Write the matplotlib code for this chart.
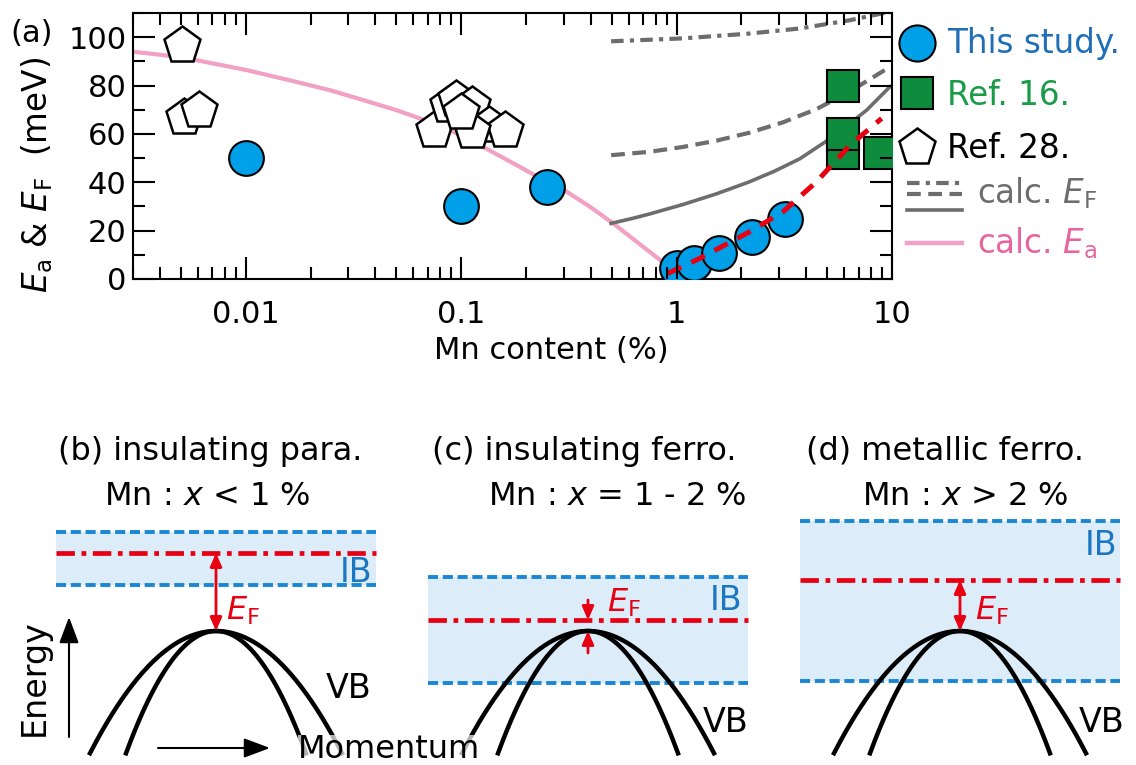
import numpy as np
import matplotlib
matplotlib.use('Agg')
import matplotlib.pyplot as plt
from matplotlib.lines import Line2D
from matplotlib.ticker import MultipleLocator, LogLocator, NullFormatter, FuncFormatter

plt.rcParams['font.family'] = ['DejaVu Sans']
plt.rcParams['mathtext.fontset'] = 'dejavusans'

W, H = 1136, 765

# ---- panel (a) data ----
this_x = [0.01, 0.1, 0.25, 1.0, 1.2, 1.58, 2.25, 3.2]
this_y = [50, 30, 38, 4.4, 6.5, 10.6, 17.5, 25]
ref16_x = [5.9, 8.8, 5.9, 5.9]
ref16_y = [52, 52, 60, 80]
ref28_x = [0.00505, 0.0052, 0.0061, 0.075, 0.087, 0.095, 0.112, 0.135, 0.16, 0.112, 0.1]
ref28_y = [96.7, 67, 70, 61.5, 72, 74.5, 72, 63.5, 61.5, 61, 69]

ea_x = [0.00306, 0.00414, 0.0059, 0.0101, 0.0172, 0.0246, 0.0351, 0.0502, 0.0644,
        0.0887, 0.122, 0.187, 0.249, 0.309, 0.396, 0.508, 0.653, 0.838, 0.915, 0.97]
ea_y = [93.9, 92.6, 90.5, 86.4, 81.5, 78.1, 74, 69.8, 66.4,
        61.6, 55.4, 46.4, 40.2, 36.1, 29.9, 23.0, 15.4, 7.9, 3.7, 1.0]

efs_x = [0.497, 0.627, 0.75, 1.07, 1.53, 2.18, 2.85, 3.73, 5.32, 7.62, 9.78]
efs_y = [23.0, 25.1, 26.9, 30.8, 35.2, 40.2, 44.6, 49.7, 58.8, 69.8, 79.5]
efd_x = [0.497, 0.75, 1.07, 1.53, 2.18, 3.12, 4.45, 6.36, 9.78]
efd_y = [51.2, 52.6, 54.6, 57.2, 60.5, 64.8, 70.2, 77.5, 87.7]
efdd_x = [0.497, 1.07, 2.18, 3.73, 6.36, 9.78]
efdd_y = [98.3, 99.5, 101.5, 103.6, 107, 110.5]

fit_x = [0.91, 1.28, 2.18, 3.12, 4.46, 6.4, 8.95]
fit_y = [2.3, 8.5, 19.5, 27.8, 40.2, 55.4, 66.4]

# ---- panels (b)-(d) schematic levels (energy relative to VB top) ----
panel_cx = [216, 588, 960]
ib_top = [99, 54, 110]
ib_bot = [46, -52, -50]
fermi = [78, 11, 51]
titles = ['(b) insulating para.', '(c) insulating ferro.', '(d) metallic ferro.']
title_x = [210, 584, 945]
subtitles = [r'Mn : $x$ < 1 %', r'Mn : $x$ = 1 - 2 %', r'Mn : $x$ > 2 %']
subtitle_x = [207, 617, 965]
ib_label = [(356, 49), (726, 21), (1101, 76)]
vb_label = [(349, -67), (726, -101), (1102, -101)]
ef_label = [(226, 11), (607, 19), (975, 11)]

blue = '#00a0e9'
green = '#0f8b3d'
red = '#e60012'
gray = '#6d6d6d'
pink = '#f2a0c4'


def fx(px):
    return px / W


def fy(py):
    return 1 - py / H


fig = plt.figure(figsize=(W / 100, H / 100), dpi=100)

ax = fig.add_axes([fx(133), fy(279), (892 - 133) / W, (279 - 13) / H])
ax.set_xscale('log')
ax.set_xlim(0.003, 10)
ax.set_ylim(0, 110)

ax.plot(ea_x, ea_y, color=pink, lw=3, zorder=2, solid_joinstyle='round')
ax.plot(efs_x, efs_y, color=gray, lw=2.6, zorder=2, solid_joinstyle='round')
ax.plot(efd_x, efd_y, color=gray, lw=3, dashes=(3.3, 1.8), zorder=2)
ax.plot(efdd_x, efdd_y, color=gray, lw=3, dashes=(3, 1.5, 1, 1.5), zorder=2)

for x, y in zip(this_x, this_y):
    ax.plot(x, y, 'o', ms=25, mfc=blue, mec='black', mew=1.5, zorder=3)
for x, y in zip(ref16_x, ref16_y):
    ax.plot(x, y, 's', ms=22.5, mfc=green, mec='black', mew=1.5, zorder=3)
for x, y in zip(ref28_x, ref28_y):
    ax.plot(x, y, 'p', ms=28, mfc='white', mec='black', mew=1.8, zorder=4)

ax.plot(fit_x, fit_y, color=red, lw=3.6, dashes=(3, 2.2), zorder=5)

ax.xaxis.set_major_locator(LogLocator(base=10, numticks=10))
ax.xaxis.set_minor_locator(LogLocator(base=10, subs=np.arange(2, 10), numticks=20))
ax.xaxis.set_major_formatter(FuncFormatter(lambda v, p: '%g' % v))
ax.xaxis.set_minor_formatter(NullFormatter())
ax.yaxis.set_major_locator(MultipleLocator(20))
ax.yaxis.set_minor_locator(MultipleLocator(10))
ax.tick_params(which='both', direction='in', top=True, right=True, width=1.5, labelsize=22)
ax.tick_params(which='major', length=16)
ax.tick_params(which='minor', length=8.5)
ax.tick_params(axis='x', pad=15)
ax.tick_params(axis='y', pad=4.5)
ax.xaxis.set_zorder(10)
ax.yaxis.set_zorder(10)
for s in ax.spines.values():
    s.set_linewidth(1.5)

fig.text(fx(10), fy(34), '(a)', fontsize=22, ha='left', va='center')
fig.text(fx(37), fy(175), r'$E_\mathrm{a}$ & $E_\mathrm{F}$  (meV)', fontsize=23.5,
         rotation=90, ha='center', va='center')
fig.text(fx(551), fy(351), 'Mn content (%)', fontsize=22, ha='center', va='center')

# legend drawn by hand
fig.add_artist(Line2D([fx(917)], [fy(43)], marker='o', ms=26, mfc=blue, mec='black',
                      mew=1.5, transform=fig.transFigure))
fig.add_artist(Line2D([fx(917)], [fy(93)], marker='s', ms=22.5, mfc=green, mec='black',
                      mew=1.5, transform=fig.transFigure))
fig.add_artist(Line2D([fx(917)], [fy(147)], marker='p', ms=28, mfc='white', mec='black',
                      mew=1.8, transform=fig.transFigure))
fig.add_artist(Line2D([fx(907), fx(962)], [fy(183)] * 2, color=gray, lw=3,
                      dashes=(3, 1.5, 1, 1.5), transform=fig.transFigure))
fig.add_artist(Line2D([fx(907), fx(962)], [fy(194)] * 2, color=gray, lw=3,
                      dashes=(3.3, 1.8), transform=fig.transFigure))
fig.add_artist(Line2D([fx(907), fx(962)], [fy(210)] * 2, color=gray, lw=2.6,
                      transform=fig.transFigure))
fig.add_artist(Line2D([fx(907), fx(962)], [fy(243)] * 2, color=pink, lw=3.2,
                      transform=fig.transFigure))
fig.text(fx(947), fy(53), 'This study.', color='#1e6fb8', fontsize=23.5, va='baseline')
fig.text(fx(947), fy(105), 'Ref. 16.', color='#1a9b48', fontsize=23.5, va='baseline')
fig.text(fx(947), fy(158), 'Ref. 28.', color='black', fontsize=23.5, va='baseline')
fig.text(fx(977), fy(203), r'calc. $E_\mathrm{F}$', color=gray, fontsize=23.5, va='baseline')
fig.text(fx(977), fy(253), r'calc. $E_\mathrm{a}$', color='#e8649f', fontsize=23.5, va='baseline')

# ---- schematic panels ----
axb = fig.add_axes([0, 0, 1, 360 / H])
axb.set_xlim(0, W)
axb.set_ylim(-134, 226)
axb.axis('off')

q_out = np.linspace(-126, 126, 300)
q_in = np.linspace(-90, 90, 300)

for i, cx in enumerate(panel_cx):
    xs = [cx - 160, cx + 160]
    axb.fill_between(xs, ib_bot[i], ib_top[i], color='#dcedf9', lw=0, zorder=1)
    axb.plot(xs, [ib_top[i]] * 2, color='#1a86d6', lw=2.8, dashes=(2.6, 1.2), zorder=2)
    axb.plot(xs, [ib_bot[i]] * 2, color='#1a86d6', lw=2.8, dashes=(2.6, 1.2), zorder=2)
    axb.plot(xs, [fermi[i]] * 2, color=red, lw=3.4, dashes=(3.9, 1.4, 1.0, 1.4), zorder=3)
    axb.plot(cx + q_out, -0.0077 * q_out ** 2, color='black', lw=3.2, zorder=4)
    axb.plot(cx + q_in, -0.0151 * q_in ** 2, color='black', lw=3.2, zorder=4)

    axb.text(title_x[i], 171, titles[i], fontsize=23, ha='center', va='baseline')
    axb.text(subtitle_x[i], 126, subtitles[i], fontsize=23, ha='center', va='baseline')
    axb.text(ib_label[i][0], ib_label[i][1], 'IB', fontsize=24, color='#1c77c3',
             ha='center', va='baseline', zorder=5)
    axb.text(vb_label[i][0], vb_label[i][1], 'VB', fontsize=24, ha='center',
             va='baseline', zorder=5)
    axb.text(ef_label[i][0], ef_label[i][1], r'$E_\mathrm{F}$', fontsize=23, color=red,
             ha='left', va='baseline', zorder=5)

arrow_kw = dict(arrowstyle='-|>,head_length=0.5,head_width=0.22', color=red, lw=2,
                mutation_scale=16, shrinkA=0, shrinkB=0)
for i in (0, 2):
    cx = panel_cx[i]
    axb.annotate('', xy=(cx, 0), xytext=(cx, fermi[i]),
                 arrowprops=dict(arrowstyle='<|-|>,head_length=0.5,head_width=0.22',
                                 color=red, lw=2, mutation_scale=16, shrinkA=0, shrinkB=0),
                 zorder=6)
axb.annotate('', xy=(panel_cx[1], fermi[1]), xytext=(panel_cx[1], fermi[1] + 20),
             arrowprops=arrow_kw, zorder=6)
axb.annotate('', xy=(panel_cx[1], 0), xytext=(panel_cx[1], -22),
             arrowprops=arrow_kw, zorder=6)

# axes arrows of the schematic
axb.annotate('', xy=(69, 14), xytext=(69, -106),
             arrowprops=dict(arrowstyle='-|>,head_length=0.8,head_width=0.3',
                             color='black', lw=1.5, mutation_scale=20, shrinkA=0, shrinkB=0))
axb.annotate('', xy=(270, -117), xytext=(158, -117),
             arrowprops=dict(arrowstyle='-|>,head_length=0.8,head_width=0.3',
                             color='black', lw=1.5, mutation_scale=20, shrinkA=0, shrinkB=0))
axb.text(34, -47, 'Energy', fontsize=24, rotation=90, ha='center', va='center')
axb.text(298, -119, 'Momentum', fontsize=23, ha='left', va='center', zorder=7,
         bbox=dict(facecolor='white', edgecolor='none', alpha=0.7, pad=0))

fig.savefig('out.png', dpi=100)
